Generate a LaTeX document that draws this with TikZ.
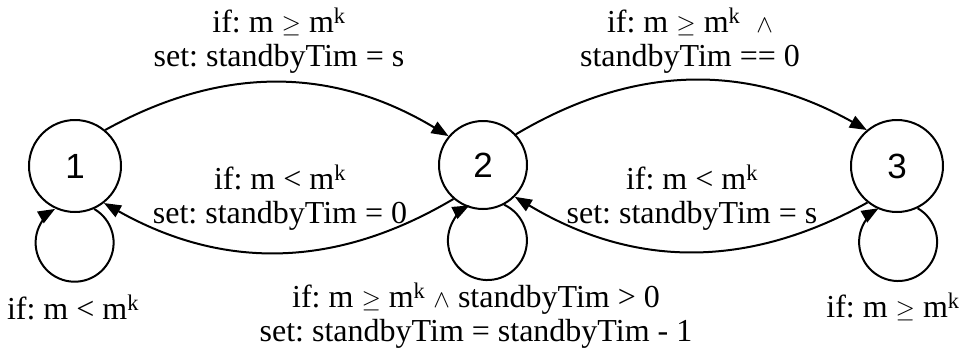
\documentclass[tikz,border=0pt]{standalone}
\usepackage{fontspec}
\setmainfont{Liberation Serif}
\newfontfamily\numfont{Liberation Sans}
\usetikzlibrary{arrows.meta}
\frenchspacing
\begin{document}
\begin{tikzpicture}[x=1pt,y=1pt, line width=2pt,
  state/.style={circle, draw, minimum size=92pt, inner sep=0pt, font=\numfont\fontsize{35}{35}\selectfont},
  lbl/.style={align=center, font=\fontsize{32}{34}\selectfont\frenchspacing, inner sep=0pt},
  edge/.style={-{Triangle[length=17pt,width=13pt]}}]
\useasboundingbox (0,0) rectangle (962,360);
\node[state] (n1) at (75,194) {1};
\node[state, minimum size=88pt] (n2) at (483,195) {2};
\node[state] (n3) at (897,194) {3};
% transitions
\draw[edge] (n1.50) to[bend left=30] (n2.140);
\draw[edge] (n2.43) to[bend left=30] (n3.130);
\draw[edge] (n2.229) to[bend left=30] (n1.308);
\draw[edge] (n3.231) to[bend left=30] (n2.315);
% self loops
\draw[edge] (n1.-66) arc[start angle=60, end angle=-240, radius=39pt];
\draw[edge] (n2.-62) arc[start angle=65, end angle=-243, radius=39.5pt];
\draw[edge] (n3.-64) arc[start angle=60, end angle=-240, radius=39pt];
% labels
\node[lbl] (t12) at (279,319) {if: m $\geq$ m\textsuperscript{k}\\set: standbyTim = s};
\node[lbl] (t23) at (690,319) {if: m $\geq$ m\textsuperscript{k} \ $\wedge$\\standbyTim == 0};
\node[lbl] (t21) at (280,162) {if: m < m\textsuperscript{k}\\set: standbyTim = 0};
\node[lbl] (t32) at (692,162) {if: m < m\textsuperscript{k}\\set: standbyTim = s};
\node[lbl] (l1) at (73,53) {if: m < m\textsuperscript{k}};
\node[lbl] (l3) at (893,53) {if: m $\geq$ m\textsuperscript{k}};
\node[lbl] (l2) at (476,44) {if: m $\geq$ m\textsuperscript{k} $\wedge$ standbyTim > 0\\set: standbyTim = standbyTim - 1};
\end{tikzpicture}
\end{document}
